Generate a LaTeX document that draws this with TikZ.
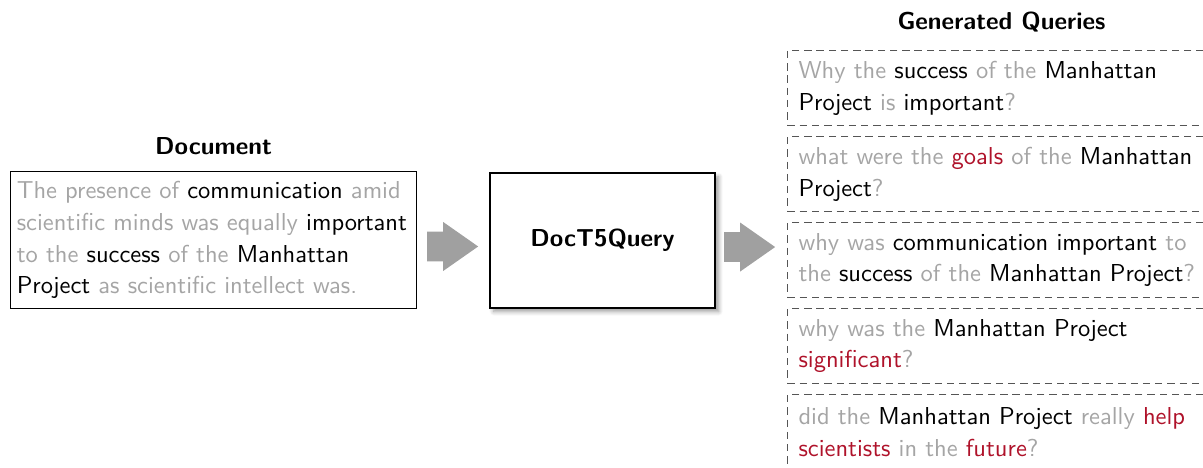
\documentclass[tikz,border=0pt]{standalone}
\usetikzlibrary{calc,positioning}
\usetikzlibrary{shapes.arrows}
\usetikzlibrary{shadows.blur}
\definecolor{txtgray}{RGB}{165,165,165}
\definecolor{hlred}{RGB}{175,18,42}
\definecolor{arrgray}{RGB}{160,160,160}
\definecolor{dashgray}{RGB}{85,85,85}
\newcommand{\gw}[1]{\textcolor{txtgray}{#1}}
\newcommand{\rw}[1]{\textcolor{hlred}{#1}}
\tikzset{
    font=\sffamily\fontsize{10}{13}\selectfont, % sans text everywhere
    node distance=4.1pt, % gap between the query boxes
    title/.style={font=\sffamily\bfseries\fontsize{10}{13}\selectfont},
    docbox/.style={draw, thin, align=left, text width=160.5pt, inner xsep=2.75pt,
      minimum height=55.5pt},
    modelbox/.style={draw, thick, fill=white, minimum width=91.8pt, minimum height=55pt,
      blur shadow={shadow xshift=1.5pt, shadow yshift=-1.5pt, shadow blur steps=6}},
    querybox/.style={draw=dashgray, dash pattern=on 3pt off 2pt, align=left,
      text width=165.6pt, inner xsep=4.5pt, minimum height=30.6pt, anchor=north west},
    blockarrow/.style={single arrow, fill=arrgray, draw=none, inner xsep=0pt, inner ysep=5.9pt,
      minimum height=20.8pt, single arrow head extend=3.9pt,
      single arrow tip angle=70, anchor=tip},
}
\begin{document}
\begin{tikzpicture}[x=0.408pt,y=-0.408pt]
  \useasboundingbox (0,0) rectangle (1203,468);

  % document
  \node[docbox] (doc) at (213.5,240) {\hyphenpenalty=10000 \gw{The presence of} communication \gw{amid}\\
    \gw{scientific minds was equally} important\\
    \gw{to the} success \gw{of the} Manhattan\\
    Project \gw{as scientific intellect was.}};
  \node[title] (doctitle) [above=3.2pt of doc] {Document};

  % model
  \node[modelbox] (t5) at (602.5,240.5) {\bfseries\fontsize{10}{13}\selectfont DocT5Query};

  % generated queries
  \node[querybox] (q1) at (787,50) {\gw{Why the} success \gw{of the} Manhattan\\
    Project \gw{is} important\gw{?}};
  \node[querybox] (q2) [below=of q1.south west, anchor=north west] {\gw{what were the} \rw{goals} \gw{of the} Manhattan\\
    Project\gw{?}};
  \node[querybox] (q3) [below=of q2.south west, anchor=north west] {\gw{why was} communication important \gw{to}\\
    \gw{the} success \gw{of the} Manhattan Project\gw{?}};
  \node[querybox] (q4) [below=of q3.south west, anchor=north west] {\gw{why was the} Manhattan Project\\
    \rw{significant}\gw{?}};
  \node[querybox] (q5) [below=of q4.south west, anchor=north west] {\gw{did the} Manhattan Project \gw{really} \rw{help}\\
    \rw{scientists} \gw{in the} \rw{future}\gw{?}};
  \node[title] (qtitle) [above=3.6pt of q1] {Generated Queries};

  % block arrows
  \node[blockarrow] (a1) at ($(t5.west)+(-10,6)$) {};
  \node[blockarrow] (a2) at ($(q3.west)+(-11,-13)$) {};
\end{tikzpicture}
\end{document}
